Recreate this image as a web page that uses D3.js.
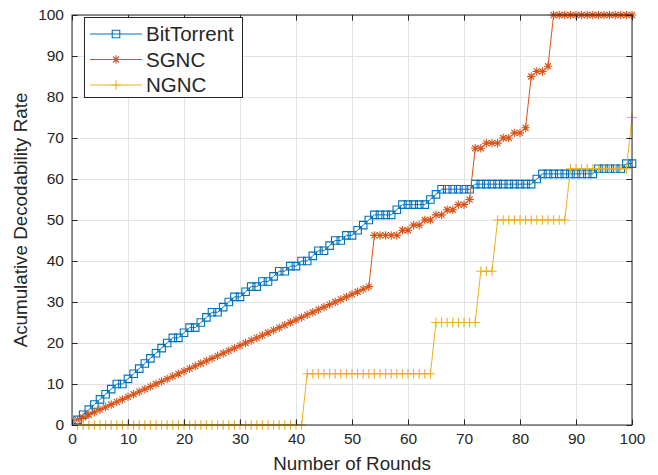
<!DOCTYPE html>
<html><head><meta charset="utf-8">
<script src="https://cdn.jsdelivr.net/npm/d3@7"></script>
<style>
body{margin:0;background:#fff}
svg{display:block}
text{font-family:"Liberation Sans",Arial,Helvetica,sans-serif;fill:#262626}
</style></head><body>
<svg id="c" width="658" height="475"></svg>
<script>
const rounds = d3.range(1, 101);
const bitTorrent = [
 1.25,2.5,3.75,5,6.25,7.5,8.75,10,10,11.25,12.5,13.75,15,16.25,17.5,18.75,20,21.25,21.25,22.5,
 23.75,23.75,25,26.25,27.5,27.5,28.75,30,31.25,31.25,32.5,33.75,33.75,35,35,36.25,37.5,37.5,38.75,38.75,
 40,40,41.25,42.5,42.5,43.75,45,45,46.25,46.25,47.5,48.75,50,51.25,51.25,51.25,51.25,52.5,53.75,53.75,
 53.75,53.75,53.75,55,56.25,57.5,57.5,57.5,57.5,57.5,57.5,58.75,58.75,58.75,58.75,58.75,58.75,58.75,58.75,58.75,
 58.75,58.75,60,61.25,61.25,61.25,61.25,61.25,61.25,61.25,61.25,61.25,61.25,62.5,62.5,62.5,62.5,62.5,63.75,63.75
];
const sgnc = [
 1.25,1.875,2.5,3.125,3.75,4.375,5,5.625,6.25,6.875,7.5,8.125,8.75,9.375,10,10.625,11.25,11.875,12.5,13.125,
 13.75,14.375,15,15.625,16.25,16.875,17.5,18.125,18.75,19.375,20,20.625,21.25,21.875,22.5,23.125,23.75,24.375,25,25.625,
 26.25,26.875,27.5,28.125,28.75,29.375,30,30.625,31.25,31.875,32.5,33.125,33.75,46.25,46.25,46.25,46.25,46.25,47.5,47.5,
 48.75,48.75,50,50,51.25,51.25,52.5,52.5,53.75,53.75,55,67.5,67.5,68.75,68.75,68.75,70,70,71.25,71.25,
 72.5,85,86.25,86.25,87.5,100,100,100,100,100,100,100,100,100,100,100,100,100,100,100
];
const ngnc = [
 0,0,0,0,0,0,0,0,0,0,0,0,0,0,0,0,0,0,0,0,
 0,0,0,0,0,0,0,0,0,0,0,0,0,0,0,0,0,0,0,0,
 0,12.5,12.5,12.5,12.5,12.5,12.5,12.5,12.5,12.5,12.5,12.5,12.5,12.5,12.5,12.5,12.5,12.5,12.5,12.5,
 12.5,12.5,12.5,12.5,25,25,25,25,25,25,25,25,37.5,37.5,37.5,50,50,50,50,50,
 50,50,50,50,50,50,50,50,62.5,62.5,62.5,62.5,62.5,62.5,62.5,62.5,62.5,62.5,62.5,75
];
const seriesNames = ["BitTorrent","SGNC","NGNC"];
const xTicks = [0,10,20,30,40,50,60,70,80,90,100];
const yTicks = [0,10,20,30,40,50,60,70,80,90,100];
const xLabel = "Number of Rounds";
const yLabel = "Acumulative Decodability Rate";

const colors = ["#0072BD","#D95319","#EDB120"];
const markers = ["square","asterisk","plus"];
const data = [bitTorrent, sgnc, ngnc];

const svg = d3.select("#c");
const L=72, R=632, T=15, B=425;
const x = d3.scaleLinear().domain([0,100]).range([L,R]);
const y = d3.scaleLinear().domain([0,100]).range([B,T]);

// grid
const grid = svg.append("g");
grid.selectAll("line.gx").data(xTicks).join("line")
  .attr("x1",d=>Math.round(x(d))+0.5).attr("x2",d=>Math.round(x(d))+0.5)
  .attr("y1",T).attr("y2",B).attr("stroke","#e3e3e3").attr("stroke-width",1);
grid.selectAll("line.gy").data(yTicks).join("line")
  .attr("y1",d=>Math.round(y(d))+0.5).attr("y2",d=>Math.round(y(d))+0.5)
  .attr("x1",L).attr("x2",R).attr("stroke","#e3e3e3").attr("stroke-width",1);

function markerPath(type, s){
  const r = s/2;
  if(type==="square") return `M${-r},${-r}H${r}V${r}H${-r}Z`;
  if(type==="plus") return `M${-r},0H${r}M0,${-r}V${r}`;
  const d = r*0.7071;
  return `M${-r},0H${r}M0,${-r}V${r}M${-d},${-d}L${d},${d}M${-d},${d}L${d},${-d}`;
}
const mSize = {square:7.5, asterisk:8.5, plus:9.5};

const line = d3.line().x((d,i)=>x(rounds[i])).y(d=>y(d));
data.forEach((vals,k)=>{
  const g = svg.append("g");
  g.append("path").attr("d", line(vals)).attr("fill","none")
    .attr("stroke",colors[k]).attr("stroke-width",1);
  g.selectAll("path.m").data(vals).join("path")
    .attr("transform",(d,i)=>`translate(${x(rounds[i])},${y(d)})`)
    .attr("d", markerPath(markers[k], mSize[markers[k]]))
    .attr("fill","none").attr("stroke",colors[k]).attr("stroke-width",1.1);
});

// axes
const tick = 5.6;
const ax = svg.append("g").attr("transform",`translate(0,${B})`)
  .call(d3.axisBottom(x).tickValues(xTicks).tickSizeInner(-tick).tickSizeOuter(0).tickPadding(8));
const ay = svg.append("g").attr("transform",`translate(${L},0)`)
  .call(d3.axisLeft(y).tickValues(yTicks).tickSizeInner(-tick).tickSizeOuter(0).tickPadding(8));
const at = svg.append("g").attr("transform",`translate(0,${T})`)
  .call(d3.axisTop(x).tickValues(xTicks).tickSizeInner(-tick).tickSizeOuter(0).tickFormat(""));
const ar = svg.append("g").attr("transform",`translate(${R},0)`)
  .call(d3.axisRight(y).tickValues(yTicks).tickSizeInner(-tick).tickSizeOuter(0).tickFormat(""));
[ax,ay,at,ar].forEach(a=>{
  a.selectAll(".domain").remove();
  a.selectAll("line").attr("stroke","#262626").attr("stroke-width",1);
  a.selectAll("text").attr("font-size",15.5).attr("font-family","Liberation Sans, Arial, sans-serif").attr("fill","#262626");
});
svg.append("rect").attr("x",L).attr("y",T).attr("width",R-L).attr("height",B-T)
  .attr("fill","none").attr("stroke","#262626").attr("stroke-width",1);

// axis labels
svg.append("text").attr("x",(L+R)/2).attr("y",470).attr("text-anchor","middle")
  .attr("font-size",18.8).text(xLabel);
svg.append("text").attr("transform",`translate(27,${(T+B)/2}) rotate(-90)`)
  .attr("text-anchor","middle").attr("font-size",18.8).text(yLabel);

// legend
const lg = svg.append("g");
lg.append("rect").attr("x",84.5).attr("y",17.5).attr("width",158).attr("height",80)
  .attr("fill","#fff").attr("stroke","#262626").attr("stroke-width",1);
const rowY = [34, 59.5, 85];
seriesNames.forEach((n,k)=>{
  lg.append("line").attr("x1",90).attr("x2",142).attr("y1",rowY[k]).attr("y2",rowY[k])
    .attr("stroke",colors[k]).attr("stroke-width",1);
  lg.append("path").attr("transform",`translate(116,${rowY[k]})`)
    .attr("d",markerPath(markers[k], mSize[markers[k]]))
    .attr("fill","none").attr("stroke",colors[k]).attr("stroke-width",1.1);
  lg.append("text").attr("x",146).attr("y",rowY[k]).attr("dy","0.36em")
    .attr("font-size",20.5).text(n);
});
</script>
</body></html>
